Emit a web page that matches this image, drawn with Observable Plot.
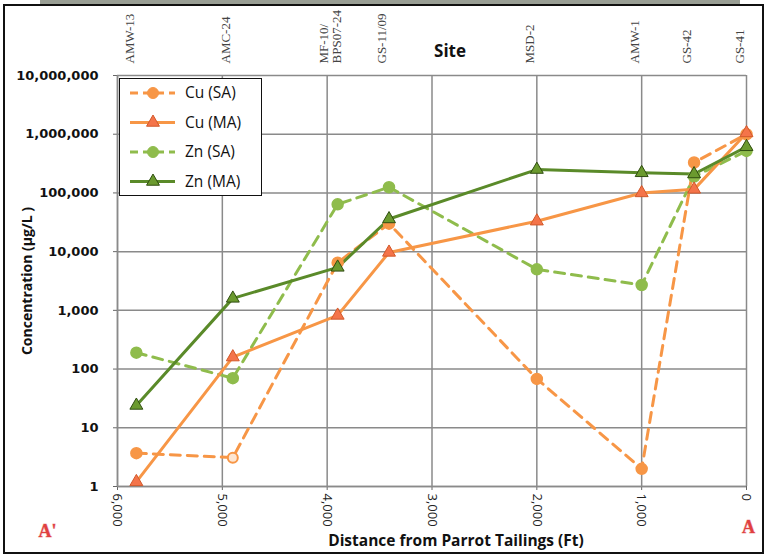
<!DOCTYPE html>
<html><head><meta charset="utf-8">
<script src="https://cdn.jsdelivr.net/npm/d3@7"></script>
<script src="https://cdn.jsdelivr.net/npm/@observablehq/plot@0.6"></script>
<style>
body{margin:0;background:#fff;}
#wrap{position:relative;width:768px;height:554px;overflow:hidden;background:#fff;}
#wrap svg{display:block;}
#frame{position:absolute;left:3px;top:4px;width:757px;height:546px;border:2px solid #111;pointer-events:none;}
#strip{position:absolute;left:40px;top:0px;width:700px;height:4px;background:#6d7566;opacity:.7;}
#legend{position:absolute;left:119px;top:78px;width:141px;height:116px;background:#fff;border:1.5px solid #111;}
</style></head><body><div id="wrap"><div id="strip"></div><div id="frame"></div></div>
<script>
// ---- data ----
const sites = ["AMW-13", "AMC-24", "MF-10/\nBPS07-24", "GS-11/09", "MSD-2", "AMW-1", "GS-42", "GS-41"];
const distances = [5820, 4900, 3900, 3410, 2000, 1000, 500, 0];
const cuSA = [3.7, 3.1, 6500, 30000, 68, 2.0, 330000, 1000000];
const cuMA = [1.2, 160, 820, 9700, 33000, 100000, 115000, 1050000];
const znSA = [190, 70, 64000, 125000, 5000, 2700, 190000, 520000];
const znMA = [24, 1600, 5400, 36000, 250000, 220000, 210000, 610000];
const xTicks = [6000, 5000, 4000, 3000, 2000, 1000, 0];
const yTicks = [1, 10, 100, 1000, 10000, 100000, 1000000, 10000000];
const seriesNames = ["Cu (SA)", "Cu (MA)", "Zn (SA)", "Zn (MA)"];
const openPointIndex = [1]; // Cu (SA) at AMC-24 drawn as hollow circle

// ---- styles ----
const C_ORANGE = "#f79646", C_ORANGE_TRI = "#f4744a", C_ORANGE_TRI_S = "#d2582a";
const C_LGREEN = "#8fbc4c", C_DGREEN = "#5a8a29", C_DGREEN_TRI = "#6b9a2f", C_DGREEN_TRI_S = "#2f4d10";
const SANS = "'Open Sans', Lato, sans-serif";
const TRI_R = 4.8, DOT_R = 5.5;

const rows = vals => distances.map((d, i) => ({site: sites[i], dist: d, value: vals[i], i}));
const dCuSA = rows(cuSA), dCuMA = rows(cuMA), dZnSA = rows(znSA), dZnMA = rows(znMA);
const siteRows = sites.map((s, i) => ({site: s, dist: distances[i]}));

const chart = Plot.plot({
  width: 768, height: 554,
  marginLeft: 117, marginRight: 22, marginTop: 75, marginBottom: 68,
  style: {fontFamily: SANS, background: "transparent"},
  x: {type: "linear", domain: [6000, 0]},
  y: {type: "log", domain: [1, 10000000]},
  marks: [
    Plot.gridX(xTicks, {stroke: "#8a8a8a", strokeOpacity: 1, strokeWidth: 1.5}),
    Plot.gridY(yTicks, {stroke: "#8a8a8a", strokeOpacity: 1, strokeWidth: 1.5}),
    Plot.axisX({ticks: xTicks, tickFormat: d3.format(","), tickRotate: 90, tickSize: 4, tickPadding: 3,
      fontSize: 13, fill: "#222", stroke: "#666", label: null}),
    Plot.axisY({ticks: yTicks, tickFormat: d3.format(","), tickSize: 4, tickPadding: 15,
      fontSize: 13, fontWeight: "bold", fontFamily: "'DejaVu Sans', Verdana, sans-serif", fill: "#111", stroke: "#666", label: null}),
    Plot.ruleX([6000], {stroke: "#8a8a8a", strokeWidth: 1.5}),
    Plot.ruleY([1], {stroke: "#8a8a8a", strokeWidth: 1.5}),
    // site labels on top
    Plot.text(siteRows, {x: "dist", text: "site", frameAnchor: "top", dx: -7, dy: -12, rotate: -90,
      textAnchor: "start", lineAnchor: "middle", fontFamily: "'Liberation Serif', serif", fontSize: 13, fill: "#444"}),
    Plot.text(["Site"], {frameAnchor: "top", textAnchor: "middle", lineAnchor: "middle", dx: 18, dy: -24, fontWeight: "bold", fontSize: 17, fill: "#111"}),
    Plot.text(["Distance from Parrot Tailings (Ft)"], {frameAnchor: "bottom", textAnchor: "middle", lineAnchor: "middle", dx: 24, dy: 55, fontWeight: "bold", fontSize: 15.5, fill: "#111"}),
    Plot.text(["Concentration (µg/L )"], {frameAnchor: "left", textAnchor: "middle", lineAnchor: "middle", dx: -90, rotate: -90, fontWeight: "bold", fontSize: 14, fill: "#111"}),
    Plot.text(["A'"], {frameAnchor: "bottom-left", textAnchor: "middle", lineAnchor: "middle", dx: -70, dy: 45, fontWeight: "bold", fontSize: 18, fill: "#e04040", stroke: "#f0b8b8", strokeWidth: 1, fontFamily: "'Liberation Serif', serif"}),
    Plot.text(["A"], {frameAnchor: "bottom-right", textAnchor: "middle", lineAnchor: "middle", dx: 2, dy: 41, fontWeight: "bold", fontSize: 18, fill: "#e04040", stroke: "#f0b8b8", strokeWidth: 1, fontFamily: "'Liberation Serif', serif"}),
    // lines
    Plot.line(dCuSA, {x: "dist", y: "value", stroke: C_ORANGE, strokeWidth: 3, strokeDasharray: "10,7"}),
    Plot.line(dZnSA, {x: "dist", y: "value", stroke: C_LGREEN, strokeWidth: 3, strokeDasharray: "10,7"}),
    Plot.line(dCuMA, {x: "dist", y: "value", stroke: C_ORANGE, strokeWidth: 3}),
    Plot.line(dZnMA, {x: "dist", y: "value", stroke: C_DGREEN, strokeWidth: 3}),
    // markers
    Plot.dot(dZnSA, {x: "dist", y: "value", r: DOT_R, fill: C_LGREEN, stroke: C_LGREEN}),
    Plot.dot(dCuSA.filter(d => !openPointIndex.includes(d.i)), {x: "dist", y: "value", r: DOT_R, fill: C_ORANGE, stroke: C_ORANGE}),
    Plot.dot(dCuSA.filter(d => openPointIndex.includes(d.i)), {x: "dist", y: "value", r: 5, fill: "#fde6d2", stroke: C_ORANGE, strokeWidth: 2}),
    Plot.dot(dCuMA, {x: "dist", y: "value", symbol: "triangle", r: TRI_R, fill: C_ORANGE_TRI, stroke: C_ORANGE_TRI_S, strokeWidth: 1}),
    Plot.dot(dZnMA, {x: "dist", y: "value", symbol: "triangle", r: TRI_R, fill: C_DGREEN_TRI, stroke: C_DGREEN_TRI_S, strokeWidth: 1})
  ]
});
const wrap = document.getElementById("wrap");
wrap.insertBefore(chart, wrap.firstChild);

// ---- legend ----
const legendDefs = [
  {name: seriesNames[0], stroke: C_ORANGE, dash: "8,5", sym: "circle", fill: C_ORANGE, sstroke: C_ORANGE, r: DOT_R},
  {name: seriesNames[1], stroke: C_ORANGE, dash: null, sym: "triangle", fill: C_ORANGE_TRI, sstroke: C_ORANGE_TRI_S, r: TRI_R},
  {name: seriesNames[2], stroke: C_LGREEN, dash: "8,5", sym: "circle", fill: C_LGREEN, sstroke: C_LGREEN, r: DOT_R},
  {name: seriesNames[3], stroke: C_DGREEN, dash: null, sym: "triangle", fill: C_DGREEN_TRI, sstroke: C_DGREEN_TRI_S, r: TRI_R}
];
const leg = d3.select("#wrap").append("div").attr("id", "legend");
const lsvg = leg.append("svg").attr("width", 141).attr("height", 116).style("font-family", SANS);
legendDefs.forEach((d, k) => {
  const cy = 14 + k * 29.5;
  const g = lsvg.append("g").attr("transform", `translate(0,${cy})`);
  g.append("line").attr("x1", 10).attr("x2", 55).attr("y1", 0).attr("y2", 0)
    .attr("stroke", d.stroke).attr("stroke-width", 3).attr("stroke-dasharray", d.dash);
  const sym = d3.symbol(d.sym === "circle" ? d3.symbolCircle : d3.symbolTriangle, Math.PI * d.r * d.r);
  g.append("path").attr("d", sym()).attr("transform", "translate(33,0)")
    .attr("fill", d.fill).attr("stroke", d.sstroke).attr("stroke-width", 1);
  g.append("text").attr("x", 65).attr("y", 0).attr("dy", "0.35em").attr("font-size", 15.5).attr("fill", "#111").text(d.name);
});
</script>
</body></html>
